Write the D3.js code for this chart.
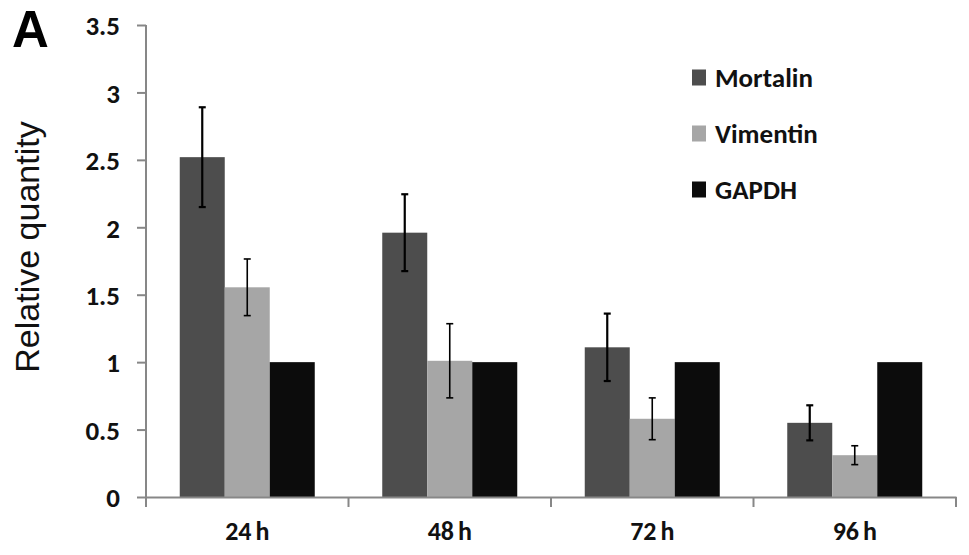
<!DOCTYPE html>
<html lang="en">
<head>
<meta charset="UTF-8">
<title>Relative quantity</title>
<script src="https://d3js.org/d3.v7.min.js"></script>
<style>
  html, body { margin: 0; padding: 0; background: #fff; }
  svg { display: block; }
  .lbl { font-family: Carlito, Lato, sans-serif; font-weight: 700; fill: #111; }
</style>
</head>
<body>
<div id="chart"></div>
<script>
// --- Data ---
const categories = ["24 h", "48 h", "72 h", "96 h"];
const seriesNames = ["Mortalin", "Vimentin", "GAPDH"];
const mortalin = [2.52, 1.96, 1.11, 0.55];
const vimentin = [1.555, 1.01, 0.58, 0.31];
const gapdh = [1, 1, 1, 1];
const mortalinErr = [0.37, 0.285, 0.25, 0.13];
const vimentinErr = [0.21, 0.275, 0.155, 0.07];
const gapdhErr = [null, null, null, null];
const yTicks = [0, 0.5, 1, 1.5, 2, 2.5, 3, 3.5];
const colors = ["#4d4d4d", "#a6a6a6", "#0c0c0c"];

const values = [mortalin, vimentin, gapdh];
const errors = [mortalinErr, vimentinErr, gapdhErr];

const W = 969, H = 555;
const mLeft = 146, mRight = 956, mTop = 25, mBottom = 497;

const svg = d3.select("#chart").append("svg")
    .attr("width", W).attr("height", H);

const y = d3.scaleLinear().domain([0, 3.5]).range([mBottom, mTop]);
const x0 = d3.scaleBand().domain(categories).range([mLeft, mRight]).padding(0);
const x1 = d3.scaleBand().domain(seriesNames).range([0, x0.bandwidth()])
    .paddingInner(0).paddingOuter(0.75);

// flatten rows for drawing
const rows = [];
categories.forEach((c, i) => {
    seriesNames.forEach((s, j) => {
        rows.push({ cat: c, series: s, v: values[j][i], e: errors[j][i], color: colors[j] });
    });
});

// bars
svg.append("g").selectAll("rect")
    .data(rows)
    .join("rect")
    .attr("x", d => x0(d.cat) + x1(d.series))
    .attr("y", d => y(d.v))
    .attr("width", x1.bandwidth())
    .attr("height", d => y(0) - y(d.v))
    .attr("fill", d => d.color);

// error bars
const eb = svg.append("g").selectAll("g")
    .data(rows.filter(d => d.e != null))
    .join("g")
    .attr("stroke", "#000")
    .attr("stroke-width", d => d.series === "Mortalin" ? 2.2 : 1.6);
const cx = d => x0(d.cat) + x1(d.series) + x1.bandwidth() / 2;
eb.append("line")
    .attr("x1", cx).attr("x2", cx)
    .attr("y1", d => y(d.v + d.e)).attr("y2", d => y(d.v - d.e));
eb.append("line")
    .attr("x1", d => cx(d) - 3.5).attr("x2", d => cx(d) + 3.5)
    .attr("y1", d => y(d.v + d.e)).attr("y2", d => y(d.v + d.e));
eb.append("line")
    .attr("x1", d => cx(d) - 3.5).attr("x2", d => cx(d) + 3.5)
    .attr("y1", d => y(d.v - d.e)).attr("y2", d => y(d.v - d.e));

// y axis
const yAxis = svg.append("g")
    .attr("transform", `translate(${mLeft},0)`)
    .call(d3.axisLeft(y).tickValues(yTicks).tickSize(9).tickSizeOuter(0).tickPadding(17)
        .tickFormat(d => String(d)));
yAxis.select(".domain").attr("stroke", "#878787").attr("stroke-width", 2)
    .attr("d", `M0,${mTop}V${mBottom + 10}`);
yAxis.selectAll(".tick line").attr("stroke", "#878787").attr("stroke-width", 2);
yAxis.selectAll(".tick text").attr("class", "lbl").style("font-size", "27px")
    .attr("dy", "0.36em");

// x axis
const xAxis = svg.append("g")
    .attr("transform", `translate(0,${mBottom})`)
    .call(d3.axisBottom(x0).tickSize(0).tickSizeOuter(0).tickPadding(25));
xAxis.select(".domain").attr("stroke", "#878787").attr("stroke-width", 2);
xAxis.selectAll(".tick text").attr("class", "lbl").style("font-size", "26px")
    .style("word-spacing", "-2px")
    .attr("dy", "0.71em");
const bounds = categories.map(c => x0(c)).concat([x0.range()[1]]);
xAxis.selectAll(".bound")
    .data(bounds)
    .join("line")
    .attr("class", "bound")
    .attr("x1", d => d).attr("x2", d => d)
    .attr("y1", 0).attr("y2", 10)
    .attr("stroke", "#878787").attr("stroke-width", 2);

// y title
svg.append("text")
    .attr("transform", "translate(39,247) rotate(-90)")
    .attr("text-anchor", "middle")
    .style("font-family", "'Liberation Sans', Arial, sans-serif")
    .style("font-size", "34px")
    .attr("fill", "#111")
    .text("Relative quantity");

// panel letter
svg.append("text")
    .attr("x", 12).attr("y", 47)
    .style("font-family", "'Liberation Sans', Arial, sans-serif")
    .style("font-weight", 700)
    .style("font-size", "51px")
    .attr("fill", "#000")
    .text("A");

// legend
const legend = svg.append("g").selectAll("g")
    .data(seriesNames)
    .join("g")
    .attr("transform", (d, i) => `translate(692,${77.5 + i * 56})`);
legend.append("rect")
    .attr("x", 0).attr("y", -8).attr("width", 14).attr("height", 16)
    .attr("fill", (d, i) => colors[i]);
legend.append("text")
    .attr("class", "lbl")
    .attr("x", 23).attr("y", 0).attr("dy", "0.36em")
    .style("font-size", "27px")
    .text(d => d);
</script>
</body>
</html>
